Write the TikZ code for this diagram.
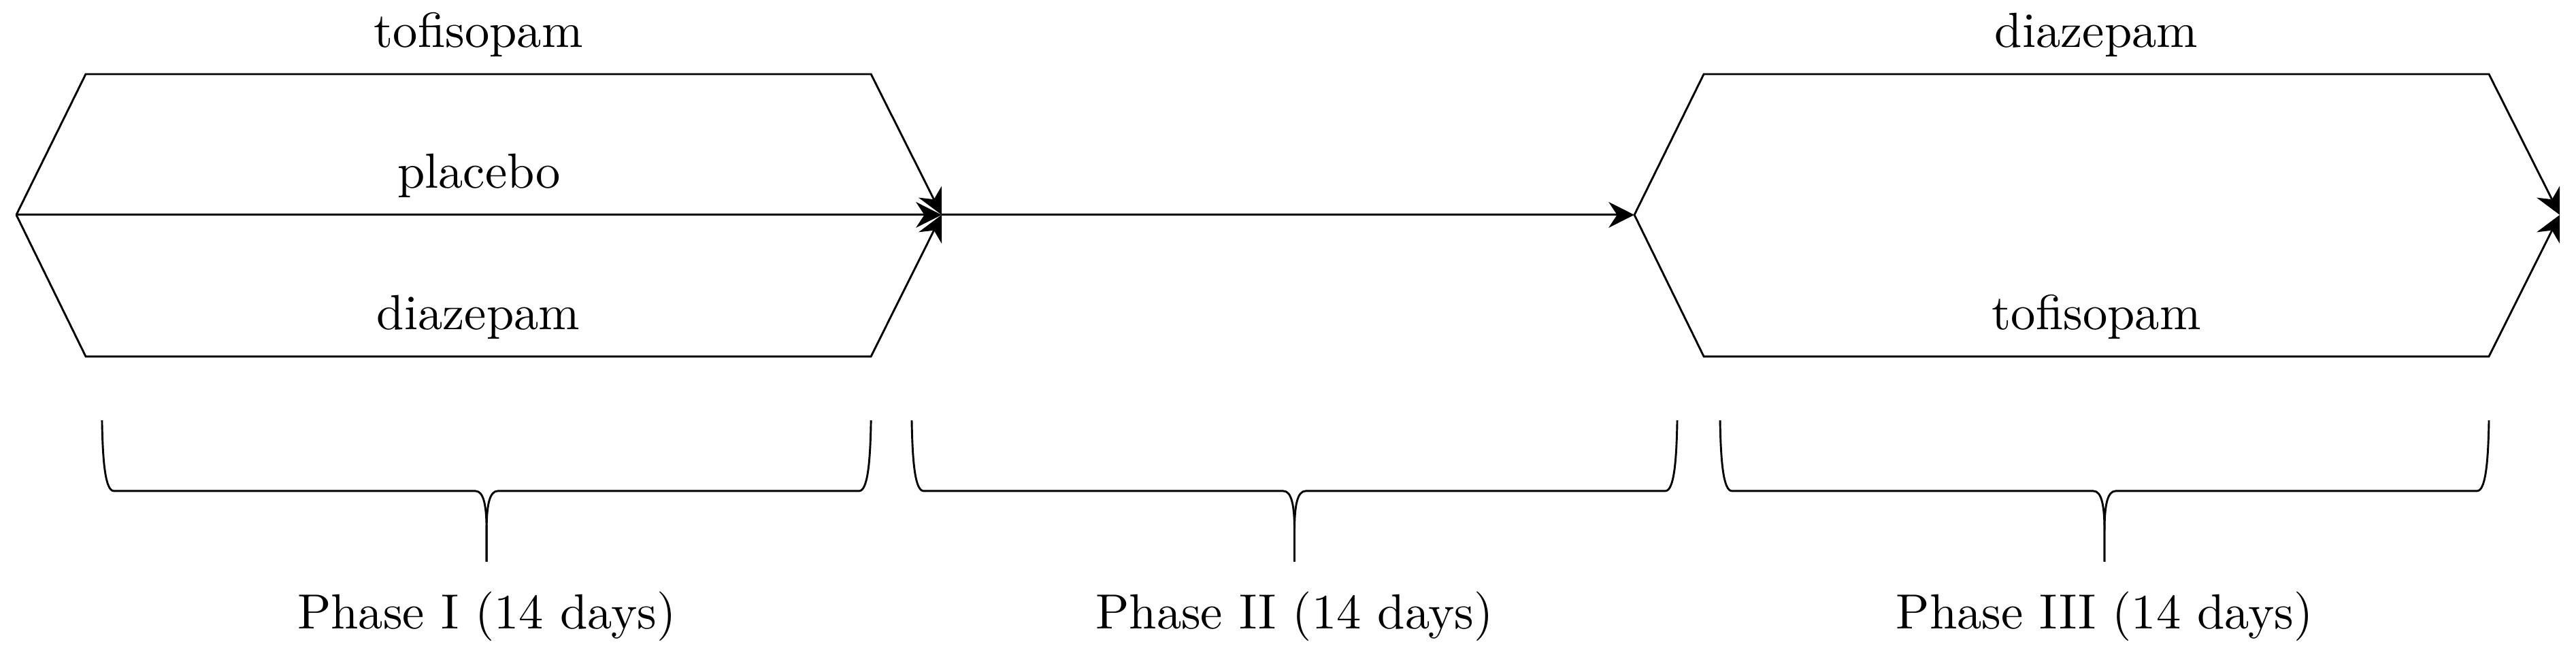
\documentclass[tikz,border=0pt]{standalone}
\usetikzlibrary{positioning,arrows.meta}
\begin{document}
\begin{tikzpicture}[>={Stealth[length=5.2pt,width=5.2pt]}]
\tikzstyle{flow}=[black,->]
\tikzstyle{bracepath}=[black]
\useasboundingbox (0,0) rectangle (18.334,-4.678);
% phase I
\coordinate (sI) at (0.116,-1.530);
\coordinate (tIa) at (0.610,-0.528);
\coordinate (tIb) at (6.199,-0.528);
\coordinate (bIa) at (0.610,-2.538);
\coordinate (bIb) at (6.199,-2.538);
\coordinate (eI) at (6.702,-1.530);
\draw [flow] (sI) -- (tIa) -- node [above] (tofI) {tofisopam} (tIb) -- (eI);
\draw [flow] (sI) -- node [above] (plac) {placebo} (eI);
\draw [flow] (sI) -- (bIa) -- node [above] (diaI) {diazepam} (bIb) -- (eI);
% phase II
\coordinate (sIII) at (11.632,-1.530);
\draw [flow] (eI) -- (sIII);
% phase III
\coordinate (tIIIa) at (12.126,-0.528);
\coordinate (tIIIb) at (17.714,-0.528);
\coordinate (bIIIa) at (12.126,-2.538);
\coordinate (bIIIb) at (17.714,-2.538);
\coordinate (eIII) at (18.218,-1.530);
\draw [flow] (sIII) -- (tIIIa) -- node [above] (diaIII) {diazepam} (tIIIb) -- (eIII);
\draw [flow] (sIII) -- (bIIIa) -- node [above] (tofIII) {tofisopam} (bIIIb) -- (eIII);
% braces
\coordinate (tipI) at (3.463,-4.0);
\coordinate (tipII) at (9.213,-4.0);
\coordinate (tipIII) at (14.978,-4.0);
\draw [bracepath] (0.726,-2.993) .. controls (0.731,-3.30) and (0.751,-3.496) .. (0.811,-3.496) -- (3.383,-3.496) .. controls (3.443,-3.496) and (3.463,-3.6) .. (3.463,-3.78) -- (tipI);
\draw [bracepath] (tipI) -- (3.463,-3.78) .. controls (3.463,-3.6) and (3.483,-3.496) .. (3.543,-3.496) -- (6.114,-3.496) .. controls (6.174,-3.496) and (6.194,-3.30) .. (6.199,-2.993);
\draw [bracepath] (6.489,-2.993) .. controls (6.494,-3.30) and (6.514,-3.496) .. (6.574,-3.496) -- (9.133,-3.496) .. controls (9.193,-3.496) and (9.213,-3.6) .. (9.213,-3.78) -- (tipII);
\draw [bracepath] (tipII) -- (9.213,-3.78) .. controls (9.213,-3.6) and (9.233,-3.496) .. (9.293,-3.496) -- (11.852,-3.496) .. controls (11.912,-3.496) and (11.932,-3.30) .. (11.937,-2.993);
\draw [bracepath] (12.242,-2.993) .. controls (12.247,-3.30) and (12.267,-3.496) .. (12.327,-3.496) -- (14.898,-3.496) .. controls (14.958,-3.496) and (14.978,-3.6) .. (14.978,-3.78) -- (tipIII);
\draw [bracepath] (tipIII) -- (14.978,-3.78) .. controls (14.978,-3.6) and (14.998,-3.496) .. (15.058,-3.496) -- (17.629,-3.496) .. controls (17.689,-3.496) and (17.709,-3.30) .. (17.714,-2.993);
\node [below=0.09cm of tipI] (phI) {Phase I (14 days)};
\node [below=0.09cm of tipII] (phII) {Phase II (14 days)};
\node [below=0.09cm of tipIII] (phIII) {Phase III (14 days)};
\end{tikzpicture}
\end{document}
